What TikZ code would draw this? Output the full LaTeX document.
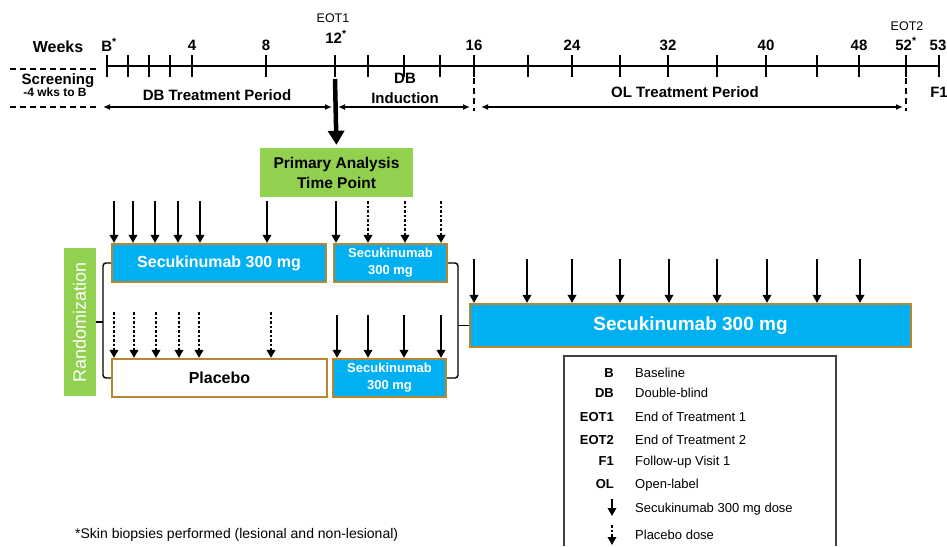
\documentclass[tikz,border=0pt]{standalone}
\usepackage{fontspec}
\setmainfont{Liberation Sans}
\usetikzlibrary{arrows.meta, positioning}
\definecolor{secblue}{HTML}{00B0F0}
\definecolor{armgold}{HTML}{B8862E}
\definecolor{limegreen}{HTML}{92D050}
\newcommand{\fsz}[2]{\fontsize{#1}{#2}\selectfont}
\tikzset{
  wklbl/.style={font=\fsz{15}{17}\bfseries,anchor=base,inner sep=0pt},
  eotlbl/.style={font=\fsz{12.5}{14},anchor=base,inner sep=0pt},
  perlbl/.style={font=\fsz{15}{20}\bfseries,anchor=base,inner sep=0pt,align=center},
  axisln/.style={line width=1.5pt},
  tickmk/.style={line width=1.5pt},
  perarr/.style={{Latex[length=7pt,width=6pt]}-{Latex[length=7pt,width=6pt]},line width=1.4pt},
  sepdash/.style={line width=1.5pt,dash pattern=on 6pt off 4pt},
  bigarr/.style={-{Triangle[length=14pt,width=16pt]},line width=4.5pt,shorten >=3pt},
  armbox/.style={draw=armgold,line width=2.2pt,fill=secblue,text=white,font=\fsz{16}{18}\bfseries,inner sep=0pt,align=center},
  smallarm/.style={armbox,font=\fsz{13}{17}\bfseries,minimum width=113pt,minimum height=38pt},
  pbobox/.style={armbox,fill=white,text=black},
  greenbox/.style={fill=limegreen,inner sep=0pt,align=center},
  secdose/.style={-{Triangle[length=8pt,width=8.5pt]},line width=1.8pt},
  pbodose/.style={secdose,dash pattern=on 2.5pt off 2pt},
  brkln/.style={line width=1.4pt,rounded corners=3pt},
  keyfrm/.style={line width=1.1pt,black!75},
  keyab/.style={font=\fsz{13}{15}\bfseries,anchor=base east,inner sep=0pt},
  keytx/.style={font=\fsz{13}{15},anchor=base west,inner sep=0pt},
}

\begin{document}
\begin{tikzpicture}[x=1pt,y=-1pt]
  \useasboundingbox (0,0) rectangle (947,546);
  % time axis
  \coordinate (axL) at (107,66);
  \coordinate (axR) at (939,66);
  \draw[axisln] (axL) -- (axR);
  \foreach \x in {107,128,149,170,192,266,335,368,404,440,474,528,572,620,668,717,766,817,859,906,939}
    \draw[tickmk] (\x,55) -- (\x,77);
  \node[wklbl,font=\fsz{16}{18}\bfseries] (wkhead) at (58,52) {Weeks};
  \node[wklbl] (wkB) at (109,51) {B\textsuperscript{*}};
  \foreach \x/\w in {192/4,266/8,474/16,572/24,668/32,766/40,859/48,938/53}
    \node[wklbl] (wk\w) at (\x,50) {\w};
  \node[wklbl] (wk12) at (336,43) {12\textsuperscript{*}};
  \node[wklbl] (wk52) at (906,50) {52\textsuperscript{*}};
  \node[eotlbl] (eot1) at (333,23) {EOT1};
  \node[eotlbl] (eot2) at (907,30) {EOT2};

  % periods
  \coordinate (scrT0) at (10,69);
  \coordinate (scrT1) at (97,69);
  \coordinate (scrB0) at (10,107);
  \coordinate (scrB1) at (97,107);
  \draw[sepdash] (scrT0) -- (scrT1);
  \draw[sepdash] (scrB0) -- (scrB1);
  \node[perlbl] (scrlbl) at (58,84) {Screening};
  \node[perlbl,font=\fsz{12}{14}\bfseries] (scrwks) at (55,96) {-4 wks to B};
  \coordinate (dbL) at (103,107);
  \coordinate (dbR) at (332,107);
  \coordinate (indL) at (338,107);
  \coordinate (indR) at (470,107);
  \coordinate (olL) at (481,107);
  \coordinate (olR) at (903,107);
  \draw[perarr] (dbL) -- (dbR);
  \draw[perarr] (indL) -- (indR);
  \draw[perarr] (olL) -- (olR);
  \coordinate (sep16a) at (474,78);
  \coordinate (sep16b) at (474,111);
  \coordinate (sep52a) at (906,78);
  \coordinate (sep52b) at (906,111);
  \draw[sepdash] (sep16a) -- (sep16b);
  \draw[sepdash] (sep52a) -- (sep52b);
  \node[perlbl] (dbtp) at (217,100) {DB Treatment Period};
  \node[perlbl] (dbind) at (405,103) {DB\\Induction};
  \node[perlbl] (oltp) at (685,97) {OL Treatment Period};
  \node[perlbl] (fup) at (939,97) {F1};

  % primary analysis
  \node[greenbox,minimum width=153pt,minimum height=49pt,font=\fsz{15.5}{20}\bfseries] (pabox) at (336.5,172.5) {Primary Analysis\\Time Point};
  \coordinate (pastart) at (335,79);
  \draw[bigarr] (pastart) -- (pabox.north);

  % arms
  \node[armbox,minimum width=214pt,minimum height=38pt] (armA) at (219,263) {Secukinumab 300 mg};
  \node[smallarm] (armAx) at (390.5,263) {Secukinumab\\300 mg};
  \node[pbobox,minimum width=215pt,minimum height=38pt] (armP) at (219.5,378) {Placebo};
  \node[smallarm] (armPx) at (389.5,378) {Secukinumab\\300 mg};
  \node[armbox,minimum width=441pt,minimum height=43pt,font=\fsz{19}{21}\bfseries] (olbox) at (690.5,325.5) {Secukinumab 300 mg};
  \node[greenbox,rotate=90,minimum width=148pt,minimum height=32pt,text=white,font=\fsz{18}{20}] (randbox) at (79.5,322) {Randomization};

  \foreach \x in {114,133,155,178,200,267,336}
    \draw[secdose] (\x,201) -- (\x,0 |- armA.north);
  \foreach \x in {368,405,441}
    \draw[pbodose] (\x,201) -- (\x,0 |- armAx.north);
  \foreach \x in {114,134,156,179,199,271}
    \draw[pbodose] (\x,312) -- (\x,0 |- armP.north);
  \foreach \x in {337,368,404,441}
    \draw[secdose] (\x,315) -- (\x,0 |- armPx.north);
  \foreach \x in {474,527,572,620,669,717,767,817,860}
    \draw[secdose] (\x,259) -- (\x,0 |- olbox.north);

  \coordinate (lbr) at (103,322);
  \coordinate (rbr) at (458,325.5);
  \draw[brkln] (armA.west) -| (lbr) |- (armP.west);
  \draw[brkln] (lbr) -- (randbox.south);
  \draw[brkln] (armAx.east) -| (rbr) |- (armPx.east);
  \draw[brkln] (rbr) -- (olbox.west);

  % key
  \coordinate (keyBL) at (564,546);
  \coordinate (keyTR) at (836,356);
  \draw[keyfrm] (keyBL) |- (keyTR) -- (keyTR |- keyBL);
  \node[keyab] (abB) at (614,377) {B};
  \node[keytx] (txB) at (635,377) {Baseline};
  \node[keyab] (abDB) at (614,397) {DB};
  \node[keytx] (txDB) at (635,397) {Double-blind};
  \node[keyab] (abE1) at (614,421) {EOT1};
  \node[keytx] (txE1) at (635,421) {End of Treatment 1};
  \node[keyab] (abE2) at (614,444) {EOT2};
  \node[keytx] (txE2) at (635,444) {End of Treatment 2};
  \node[keyab] (abF1) at (614,465) {F1};
  \node[keytx] (txF1) at (635,465) {Follow-up Visit 1};
  \node[keyab] (abOL) at (614,488) {OL};
  \node[keytx] (txOL) at (635,488) {Open-label};
  \coordinate (keyS1) at (612,499);
  \coordinate (keyS2) at (612,516);
  \coordinate (keyP1) at (612,525);
  \coordinate (keyP2) at (612,545);
  \draw[secdose] (keyS1) -- (keyS2);
  \draw[pbodose] (keyP1) -- (keyP2);
  \node[keytx] (txsec) at (635,512) {Secukinumab 300 mg dose};
  \node[keytx] (txpbo) at (635,539) {Placebo dose};

  \node[anchor=base west,inner sep=0pt,font=\fsz{14}{16}] (fnote) at (75,538) {*Skin biopsies performed (lesional and non-lesional)};
\end{tikzpicture}
\end{document}
